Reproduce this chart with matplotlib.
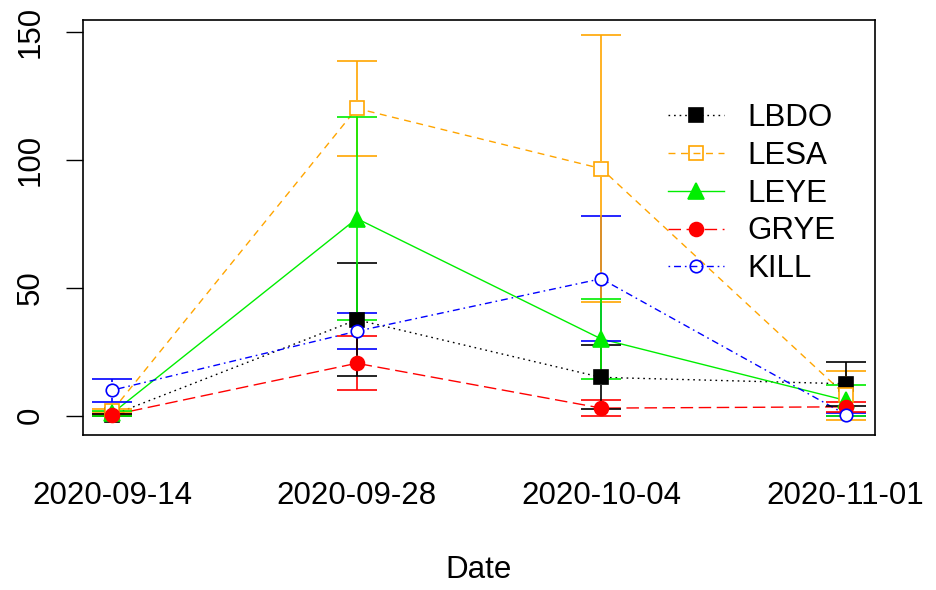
import matplotlib
matplotlib.use("Agg")
import matplotlib.pyplot as plt
from matplotlib.lines import Line2D
import numpy as np

dates = ["2020-09-14", "2020-09-28", "2020-10-04", "2020-11-01"]
species = ["LBDO", "LESA", "LEYE", "GRYE", "KILL"]
lbdo = [0.3, 37.5, 15.0, 12.5]
lbdo_se = [0.3, 22.0, 12.5, 8.5]
lesa = [2.0, 120.0, 96.5, 8.0]
lesa_se = [0.6, 18.5, 52.0, 9.5]
leye = [1.0, 77.0, 30.0, 6.0]
leye_se = [1.0, 39.5, 15.5, 6.0]
grye = [0.3, 20.5, 3.0, 3.5]
grye_se = [0.3, 10.5, 3.0, 2.0]
kill = [10.0, 33.0, 53.5, 0.5]
kill_se = [4.5, 7.0, 24.5, 0.5]

means = [lbdo, lesa, leye, grye, kill]
ses = [lbdo_se, lesa_se, leye_se, grye_se, kill_se]
colors = ["black", "orange", "#00ee00", "red", "blue"]
markers = ["s", "s", "^", "o", "o"]
filled = [True, False, True, True, False]
styles = [(0, (1.2, 2.8)), (0, (5, 4)), "-", (0, (9, 4)), (0, (1.2, 2.8, 5, 2.8))]
msizes = [10, 10, 11, 10, 9]
bar_z = [5, 4, 6, 3, 2]

plt.rcParams["font.family"] = ["Liberation Sans", "DejaVu Sans"]
fig = plt.figure(figsize=(9.37, 5.9), dpi=100)
ax = fig.add_axes([83/937, 1-435/590, (875-83)/937, (435-20)/590])

x = np.arange(1, len(dates) + 1)
allm = np.array(means); alls = np.array(ses)
lo = (allm - alls).min(); hi = (allm + alls).max()
pad = 0.04 * (hi - lo)
ax.set_ylim(lo - pad, hi + pad)
ax.set_xlim(1 - 0.04 * 3, 4 + 0.04 * 3)

fig.canvas.draw()
ppu = ax.transData.transform((0, 1))[1] - ax.transData.transform((0, 0))[1]
gap = 8.0 / ppu
capw = 20.0 / (ax.transData.transform((1, 0))[0] - ax.transData.transform((0, 0))[0])

for i, name in enumerate(species):
    m = np.array(means[i]); s = np.array(ses[i]); c = colors[i]
    ax.plot(x, m, color=c, linestyle=styles[i], lw=1.0, zorder=1 + 0.1 * i)
    for xi, mi, si in zip(x, m, s):
        if si > gap:
            ax.vlines(xi, mi + gap, mi + si, color=c, lw=1.2, zorder=bar_z[i])
            ax.vlines(xi, mi - si, mi - gap, color=c, lw=1.2, zorder=bar_z[i])
        ax.hlines([mi + si, mi - si], xi - capw, xi + capw, color=c, lw=1.2, zorder=bar_z[i])
    ax.plot(x, m, linestyle="none", marker=markers[i], ms=msizes[i],
            markerfacecolor=c if filled[i] else "white", markeredgecolor=c,
            markeredgewidth=1.2, zorder=10 + i)

handles = [Line2D([], [], color=colors[i], linestyle=styles[i], lw=1.0, marker=markers[i],
                  ms=msizes[i], markerfacecolor=colors[i] if filled[i] else "none",
                  markeredgecolor=colors[i], markeredgewidth=1.2) for i in range(5)]
ax.legend(handles, species, loc="upper left", bbox_to_anchor=(668/937, 1 - 103/590),
          bbox_transform=fig.transFigure, frameon=False, fontsize=22.5,
          handlelength=1.8, handletextpad=0.75, labelspacing=0.25, borderpad=0,
          borderaxespad=0)

ax.set_xticks(x)
ax.set_xticklabels(dates)
ax.set_yticks([0, 50, 100, 150])
ax.set_yticklabels(["0", "50", "100", "150"], rotation=90, va="center")
ax.tick_params(axis="x", length=0, pad=33, labelsize=22.5)
ax.tick_params(axis="y", length=12, width=1.0, pad=15, labelsize=22.5)
ax.set_xlabel("Date", fontsize=22.5, labelpad=32)
for sp in ax.spines.values():
    sp.set_linewidth(1.2)

fig.savefig("out.png", dpi=100)
